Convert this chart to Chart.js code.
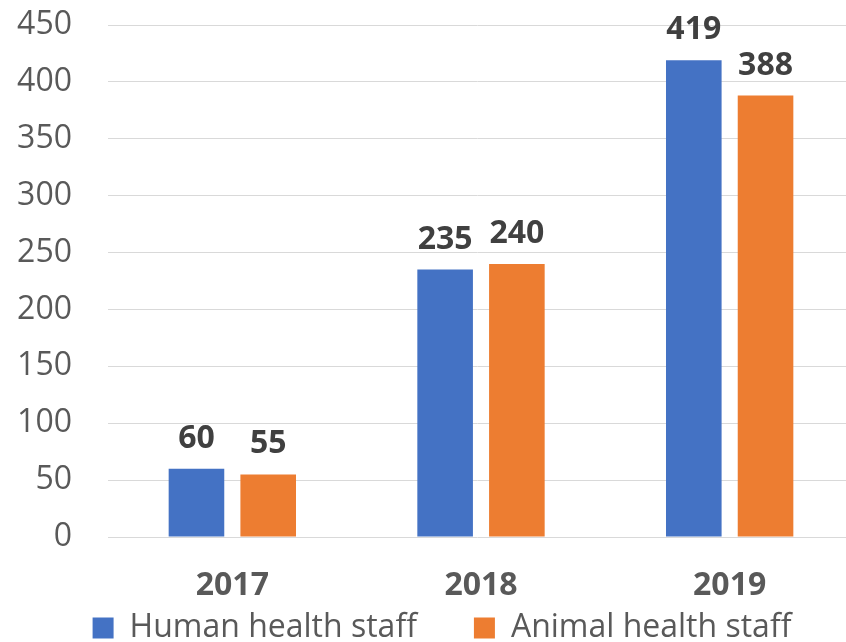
<!DOCTYPE html>
<html>
<head>
<meta charset="utf-8">
<script src="https://cdn.jsdelivr.net/npm/chart.js@4"></script>
<style>
html,body{margin:0;padding:0;background:#fff;}
#wrap{width:846px;height:642px;}
</style>
</head>
<body>
<div id="wrap"><canvas id="c" width="846" height="642"></canvas></div>
<script>
const categories = ['2017', '2018', '2019'];
const humanHealthStaff = [60, 235, 419];
const animalHealthStaff = [55, 240, 388];
const seriesNames = ['Human health staff', 'Animal health staff'];
const yTicks = [0, 50, 100, 150, 200, 250, 300, 350, 400, 450];

const FONT = '"Open Sans", "Liberation Sans", sans-serif';

const layoutTweaks = {
  id: 'layoutTweaks',
  beforeLayout(chart) {
    const lg = chart.legend;
    if (lg && !lg._patched) {
      const orig = lg.fit;
      lg.fit = function () { orig.call(this); this.height = 35; };
      lg._patched = true;
    }
  },
  afterLayout(chart) {
    const lg = chart.legend;
    if (lg) {
      lg.top = 555;
      lg.bottom = 642;
      lg.left = 30;
      lg.right = 854;
      lg.width = 824;
    }
    const x = chart.scales.x;
    const newRight = 854;
    x.right = newRight;
    x.width = newRight - x.left;
    x.configure();
    chart.chartArea.right = newRight;
    chart.chartArea.width = newRight - chart.chartArea.left;
  }
};

const dataLabels = {
  id: 'dataLabels',
  afterDatasetsDraw(chart) {
    const ctx = chart.ctx;
    ctx.save();
    ctx.font = 'bold 32px ' + FONT;
    ctx.fillStyle = '#404040';
    ctx.textAlign = 'center';
    ctx.textBaseline = 'alphabetic';
    chart.data.datasets.forEach((ds, i) => {
      const meta = chart.getDatasetMeta(i);
      meta.data.forEach((el, j) => {
        ctx.fillText(String(ds.data[j]), el.x, el.y - 21);
      });
    });
    ctx.restore();
  }
};

new Chart(document.getElementById('c'), {
  type: 'bar',
  data: {
    labels: categories,
    datasets: [
      { label: seriesNames[0], data: humanHealthStaff, backgroundColor: '#4472C4', categoryPercentage: 0.577, barPercentage: 0.775 },
      { label: seriesNames[1], data: animalHealthStaff, backgroundColor: '#ED7D31', categoryPercentage: 0.577, barPercentage: 0.775 }
    ]
  },
  options: {
    responsive: false,
    animation: false,
    devicePixelRatio: 1,
    layout: { padding: { top: 25, right: 0, left: 0, bottom: 0 } },
    plugins: {
      tooltip: { enabled: false },
      legend: {
        position: 'bottom',
        labels: {
          boxWidth: 21,
          boxHeight: 21,
          padding: 57,
          color: '#595959',
          font: { family: FONT, size: 32 }
        }
      }
    },
    scales: {
      x: {
        grid: { display: false, drawTicks: false },
        border: { display: false },
        ticks: { color: '#595959', padding: 30, autoSkip: false, maxRotation: 0, font: { family: FONT, size: 32, weight: 'bold' } },
        afterFit(scale) { scale.height = 70; }
      },
      y: {
        min: 0,
        max: 450,
        afterBuildTicks(scale) { scale.ticks = yTicks.map(v => ({ value: v })); },
        grid: { color: '#d9d9d9', lineWidth: 1, drawTicks: true, tickLength: 36, tickColor: 'rgba(0,0,0,0)' },
        border: { display: false },
        ticks: { color: '#595959', padding: 0, font: { family: FONT, size: 32 } },
        afterFit(scale) { scale.width = 108; }
      }
    }
  },
  plugins: [layoutTweaks, dataLabels]
});
</script>
</body>
</html>
